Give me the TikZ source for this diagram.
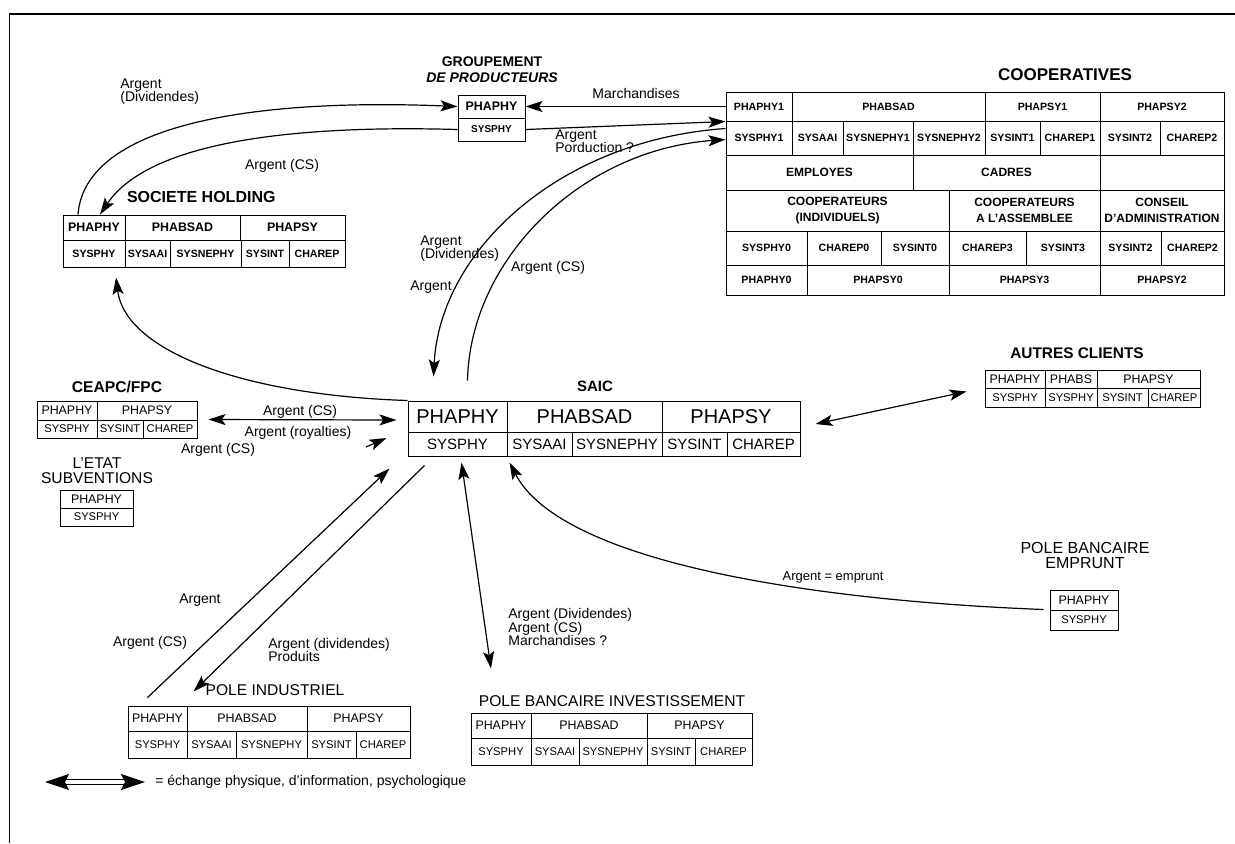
\documentclass[tikz,border=0pt]{standalone}
\usepackage{fontspec}
\setmainfont{Liberation Sans}
\usetikzlibrary{arrows.meta}

\begin{document}
\begin{tikzpicture}[x=0.5pt, y=-0.5pt,
	box/.style n args={4}{minimum width={(#3-#1)*0.5pt}, minimum height={(#4-#2)*0.5pt}, at={({(#1+#3)/2},{(#2+#4)/2})}},
	cell/.style={draw, line width=0.5pt, inner sep=0pt},
	boldcell/.style={cell, font=\fontsize{5.3}{8}\selectfont\bfseries},
	headcell/.style={cell, font=\fontsize{6.2}{8}\selectfont},
	smallcell/.style={cell, font=\fontsize{5.6}{8}\selectfont},
	bigcell/.style={cell, font=\fontsize{10}{12}\selectfont},
	midcell/.style={cell, font=\fontsize{7.5}{9}\selectfont},
	title/.style={font=\fontsize{8}{8}\selectfont\bfseries, align=center},
	plaintitle/.style={font=\fontsize{7.8}{7.5}\selectfont, align=center},
	lbl/.style={font=\fontsize{7}{6.6}\selectfont, align=left, inner sep=0pt},
	flow/.style={line width=0.6pt, -{Stealth[length=8.5pt, width=5.5pt, inset=1.8pt]}},
	both/.style={line width=0.6pt, {Stealth[length=8.5pt, width=5.5pt, inset=1.8pt]}-{Stealth[length=8.5pt, width=5.5pt, inset=1.8pt]}},
	legendarrow/.style={double, double distance=2pt, line width=0.6pt, {Stealth[length=12pt, width=8pt, inset=2pt]}-{Stealth[length=12pt, width=8pt, inset=2pt]}}]
	\useasboundingbox (0,0) rectangle (1235,843);
	% Frame:
	\draw[line width=0.6pt] (9,14) -- (1235,14);
	\draw[line width=0.5pt] (9,14) -- (9,843);

	% Groupement de producteurs:
	\node[title, font=\fontsize{7}{8}\selectfont\bfseries] (grTitle) at (492,70) {GROUPEMENT\\\textit{DE PRODUCTEURS}};
	\node[boldcell, font=\fontsize{6.2}{8}\selectfont\bfseries, box={458}{95}{525}{118}] (grPhaphy) {PHAPHY};
	\node[boldcell, font=\fontsize{5}{8}\selectfont\bfseries, box={458}{118}{525}{141}] (grSysphy) {SYSPHY};

	% Cooperatives:
	\node[title, font=\fontsize{8.5}{9}\selectfont\bfseries] (coTitle) at (1065,75) {COOPERATIVES};
	\node[boldcell, box={726}{92}{792}{121}] (coPhaphyA) {PHAPHY1};
	\node[boldcell, box={792}{92}{985}{121}] (coPhabsad) {PHABSAD};
	\node[boldcell, box={985}{92}{1100}{121}] (coPhapsyA) {PHAPSY1};
	\node[boldcell, box={1100}{92}{1224}{121}] (coPhapsyB) {PHAPSY2};
	\node[boldcell, box={726}{121}{792}{155}] (coSysphyA) {SYSPHY1};
	\node[boldcell, box={792}{121}{843}{155}] (coSysaai) {SYSAAI};
	\node[boldcell, box={843}{121}{913}{155}] (coSysnephyA) {SYSNEPHY1};
	\node[boldcell, box={913}{121}{985}{155}] (coSysnephyB) {SYSNEPHY2};
	\node[boldcell, box={985}{121}{1040}{155}] (coSysintA) {SYSINT1};
	\node[boldcell, box={1040}{121}{1100}{155}] (coCharepA) {CHAREP1};
	\node[boldcell, box={1100}{121}{1160}{155}] (coSysintB) {SYSINT2};
	\node[boldcell, box={1160}{121}{1224}{155}] (coCharepB) {CHAREP2};
	\node[boldcell, font=\fontsize{6}{8}\selectfont\bfseries, box={726}{155}{913}{190}] (coEmployes) {EMPLOYES};
	\node[boldcell, font=\fontsize{6}{8}\selectfont\bfseries, box={913}{155}{1100}{190}] (coCadres) {CADRES};
	\node[boldcell, box={1100}{155}{1224}{190}] (coVide) {};
	\node[boldcell, align=center, font=\fontsize{6}{8}\selectfont\bfseries, box={726}{190}{949}{231}] (coIndiv) {COOPERATEURS\\(INDIVIDUELS)};
	\node[boldcell, align=center, font=\fontsize{6}{8}\selectfont\bfseries, box={949}{190}{1100}{231}] (coAssemblee) {COOPERATEURS\\A L'ASSEMBLEE};
	\node[boldcell, align=center, font=\fontsize{6}{8}\selectfont\bfseries, box={1100}{190}{1224}{231}] (coConseil) {CONSEIL\\D'ADMINISTRATION};
	\node[boldcell, box={726}{231}{807}{265}] (coSysphyO) {SYSPHY0};
	\node[boldcell, box={807}{231}{881}{265}] (coCharepO) {CHAREP0};
	\node[boldcell, box={881}{231}{949}{265}] (coSysintO) {SYSINT0};
	\node[boldcell, box={949}{231}{1026}{265}] (coCharepC) {CHAREP3};
	\node[boldcell, box={1026}{231}{1100}{265}] (coSysintC) {SYSINT3};
	\node[boldcell, box={1100}{231}{1161}{265}] (coSysintD) {SYSINT2};
	\node[boldcell, box={1161}{231}{1224}{265}] (coCharepD) {CHAREP2};
	\node[boldcell, box={726}{265}{807}{295}] (coPhaphyO) {PHAPHY0};
	\node[boldcell, box={807}{265}{949}{295}] (coPhapsyO) {PHAPSY0};
	\node[boldcell, box={949}{265}{1100}{295}] (coPhapsyC) {PHAPSY3};
	\node[boldcell, box={1100}{265}{1224}{295}] (coPhapsyD) {PHAPSY2};

	% Societe holding:
	\node[title, anchor=west] (hoTitle) at (120,197) {SOCIETE HOLDING};
	\node[boldcell, font=\fontsize{6.2}{8}\selectfont\bfseries, box={63}{215}{125}{240}] (hoPhaphy) {PHAPHY};
	\node[boldcell, font=\fontsize{6.2}{8}\selectfont\bfseries, box={125}{215}{240}{240}] (hoPhabsad) {PHABSAD};
	\node[boldcell, font=\fontsize{6.2}{8}\selectfont\bfseries, box={240}{215}{345}{240}] (hoPhapsy) {PHAPSY};
	\node[boldcell, box={63}{240}{125}{267}] (hoSysphy) {SYSPHY};
	\node[boldcell, box={125}{240}{170}{267}] (hoSysaai) {SYSAAI};
	\node[boldcell, box={170}{240}{241}{267}] (hoSysnephy) {SYSNEPHY};
	\node[boldcell, box={241}{240}{289}{267}] (hoSysint) {SYSINT};
	\node[boldcell, box={289}{240}{345}{267}] (hoCharep) {CHAREP};

	% CEAPC/FPC:
	\node[title, font=\fontsize{7.8}{8}\selectfont\bfseries] (ceTitle) at (117,387) {CEAPC/FPC};
	\node[headcell, box={37}{401}{97}{420}] (cePhaphy) {PHAPHY};
	\node[headcell, box={97}{401}{197}{420}] (cePhapsy) {PHAPSY};
	\node[smallcell, box={37}{420}{97}{438}] (ceSysphy) {SYSPHY};
	\node[smallcell, box={97}{420}{143}{438}] (ceSysint) {SYSINT};
	\node[smallcell, box={143}{420}{197}{438}] (ceCharep) {CHAREP};

	% L'etat:
	\node[plaintitle] (etTitle) at (97,471) {L'ETAT\\SUBVENTIONS};
	\node[headcell, box={60}{490}{133}{508}] (etPhaphy) {PHAPHY};
	\node[smallcell, box={60}{508}{133}{526}] (etSysphy) {SYSPHY};

	% SAIC:
	\node[title, font=\fontsize{7.5}{8}\selectfont\bfseries] (saTitle) at (595,386) {SAIC};
	\node[bigcell, box={408}{401}{507}{432}] (saPhaphy) {PHAPHY};
	\node[bigcell, box={507}{401}{662}{432}] (saPhabsad) {PHABSAD};
	\node[bigcell, box={662}{401}{800}{432}] (saPhapsy) {PHAPSY};
	\node[midcell, box={408}{432}{507}{456}] (saSysphy) {SYSPHY};
	\node[midcell, box={507}{432}{572}{456}] (saSysaai) {SYSAAI};
	\node[midcell, box={572}{432}{662}{456}] (saSysnephy) {SYSNEPHY};
	\node[midcell, box={662}{432}{727}{456}] (saSysint) {SYSINT};
	\node[midcell, box={727}{432}{800}{456}] (saCharep) {CHAREP};

	% Autres clients:
	\node[title, font=\fontsize{7.7}{8}\selectfont\bfseries] (auTitle) at (1077,353) {AUTRES CLIENTS};
	\node[headcell, box={985}{370}{1045}{388}] (auPhaphy) {PHAPHY};
	\node[headcell, box={1045}{370}{1097}{388}] (auPhabs) {PHABS};
	\node[headcell, box={1097}{370}{1200}{388}] (auPhapsy) {PHAPSY};
	\node[smallcell, box={985}{388}{1045}{407}] (auSysphy) {SYSPHY};
	\node[smallcell, box={1045}{388}{1097}{407}] (auSysphyB) {SYSPHY};
	\node[smallcell, box={1097}{388}{1148}{407}] (auSysint) {SYSINT};
	\node[smallcell, box={1148}{388}{1200}{407}] (auCharep) {CHAREP};

	% Pole bancaire emprunt:
	\node[plaintitle, font=\fontsize{8}{7.5}\selectfont] (peTitle) at (1085,555) {POLE BANCAIRE\\EMPRUNT};
	\node[headcell, box={1050}{590}{1118}{610}] (pePhaphy) {PHAPHY};
	\node[smallcell, box={1050}{610}{1118}{630}] (peSysphy) {SYSPHY};

	% Pole industriel:
	\node[plaintitle] (piTitle) at (275,690) {POLE INDUSTRIEL};
	\node[headcell, box={128}{706}{187}{731}] (piPhaphy) {PHAPHY};
	\node[headcell, box={187}{706}{307}{731}] (piPhabsad) {PHABSAD};
	\node[headcell, box={307}{706}{410}{731}] (piPhapsy) {PHAPSY};
	\node[smallcell, box={128}{731}{187}{758}] (piSysphy) {SYSPHY};
	\node[smallcell, box={187}{731}{236}{758}] (piSysaai) {SYSAAI};
	\node[smallcell, box={236}{731}{307}{758}] (piSysnephy) {SYSNEPHY};
	\node[smallcell, box={307}{731}{356}{758}] (piSysint) {SYSINT};
	\node[smallcell, box={356}{731}{410}{758}] (piCharep) {CHAREP};

	% Pole bancaire investissement:
	\node[plaintitle] (pbTitle) at (612,701) {POLE BANCAIRE INVESTISSEMENT};
	\node[headcell, box={471}{713}{531}{738}] (pbPhaphy) {PHAPHY};
	\node[headcell, box={531}{713}{647}{738}] (pbPhabsad) {PHABSAD};
	\node[headcell, box={647}{713}{752}{738}] (pbPhapsy) {PHAPSY};
	\node[smallcell, box={471}{738}{531}{765}] (pbSysphy) {SYSPHY};
	\node[smallcell, box={531}{738}{579}{765}] (pbSysaai) {SYSAAI};
	\node[smallcell, box={579}{738}{647}{765}] (pbSysnephy) {SYSNEPHY};
	\node[smallcell, box={647}{738}{695}{765}] (pbSysint) {SYSINT};
	\node[smallcell, box={695}{738}{752}{765}] (pbCharep) {CHAREP};

	% Labels:
	\node[lbl, anchor=west] (lbDivTop) at (120,92) {Argent\\(Dividendes)};
	\node[lbl] (lbCsTop) at (282,166) {Argent (CS)};
	\node[lbl] (lbMarch) at (636,93) {Marchandises};
	\node[lbl, anchor=west] (lbProd) at (555,141) {Argent\\Porduction ?};
	\node[lbl, anchor=west] (lbDivMid) at (420,249) {Argent\\(Dividendes)};
	\node[lbl, anchor=west] (lbArgMid) at (410,287) {Argent};
	\node[lbl] (lbCsMid) at (548,268) {Argent (CS)};
	\node[lbl] (lbCsCeapc) at (300,412) {Argent (CS)};
	\node[lbl] (lbRoyal) at (298,433) {Argent (royalties)};
	\node[lbl] (lbCsEtat) at (218,450) {Argent (CS)};
	\node[lbl] (lbArgInd) at (200,600) {Argent};
	\node[lbl] (lbCsInd) at (150,643) {Argent (CS)};
	\node[lbl, anchor=west] (lbDivInd) at (268,650) {Argent (dividendes)\\Produits};
	\node[lbl, anchor=west] (lbBanque) at (508,627) {Argent (Dividendes)\\Argent (CS)\\Marchandises ?};
	\node[lbl, font=\fontsize{6.5}{7}\selectfont] (lbEmprunt) at (833,577) {Argent = emprunt};

	% Flows:
	\draw[flow] ([xshift=-8pt]hoPhaphy.north) .. controls (85,125) and (250,98) .. (grPhaphy.west);
	\draw[flow] (grSysphy.west) .. controls (300,125) and (150,140) .. ([xshift=3pt]hoPhaphy.north);
	\draw[flow] (coPhaphyA.west) -- (grPhaphy.east);
	\draw[flow] (grSysphy.east) -- (coPhaphyA.south west);
	\draw[flow] ([yshift=-4pt]coSysphyA.north west) .. controls (560,140) and (440,250) .. ([xshift=-12pt,yshift=12pt]saPhaphy.north);
	\draw[flow] ([xshift=5pt,yshift=10pt]saPhaphy.north) .. controls (470,260) and (580,150) .. ([yshift=-9.5pt]coSysphyA.north west);
	\draw[flow] (saPhaphy.north west) .. controls (240,395) and (125,350) .. ([xshift=11pt,yshift=-5pt]hoSysphy.south);
	\draw[both] ([xshift=5.5pt]ceCharep.north east) -- ([xshift=-5.5pt,yshift=-1.75pt]saPhaphy.west);
	\coordinate (roy) at (366,447);
	\draw[flow] (roy) -- ([xshift=-10.5pt,yshift=3pt]saSysphy.west);
	\draw[flow] ([xshift=-5pt,yshift=4pt]piPhaphy.north) -- ([xshift=-9pt,yshift=-6pt]saSysphy.south west);
	\draw[flow] ([xshift=8.5pt,yshift=-4.5pt]saSysphy.south west) -- ([xshift=3pt,yshift=7pt]piPhaphy.north east);
	\draw[both] ([xshift=2pt,yshift=-3pt]saSysphy.south) -- ([xshift=-5pt,yshift=22pt]pbPhaphy.north);
	\draw[flow] ([xshift=-3pt]peSysphy.north west) .. controls (800,600) and (560,560) .. ([xshift=1.5pt,yshift=-3pt]saSysaai.south west);
	\draw[both] ([xshift=7.5pt,yshift=-3.75pt]saPhapsy.east) -- ([xshift=-9pt,yshift=-2pt]auSysphy.north west);

	% Legend:
	\node[lbl, anchor=west] (lgText) at (155,782) {= échange physique, d'information, psychologique};
	\coordinate (lgStart) at (45,782);
	\draw[legendarrow] (lgStart) -- ([xshift=-5pt]lgText.west);
\end{tikzpicture}
\end{document}
